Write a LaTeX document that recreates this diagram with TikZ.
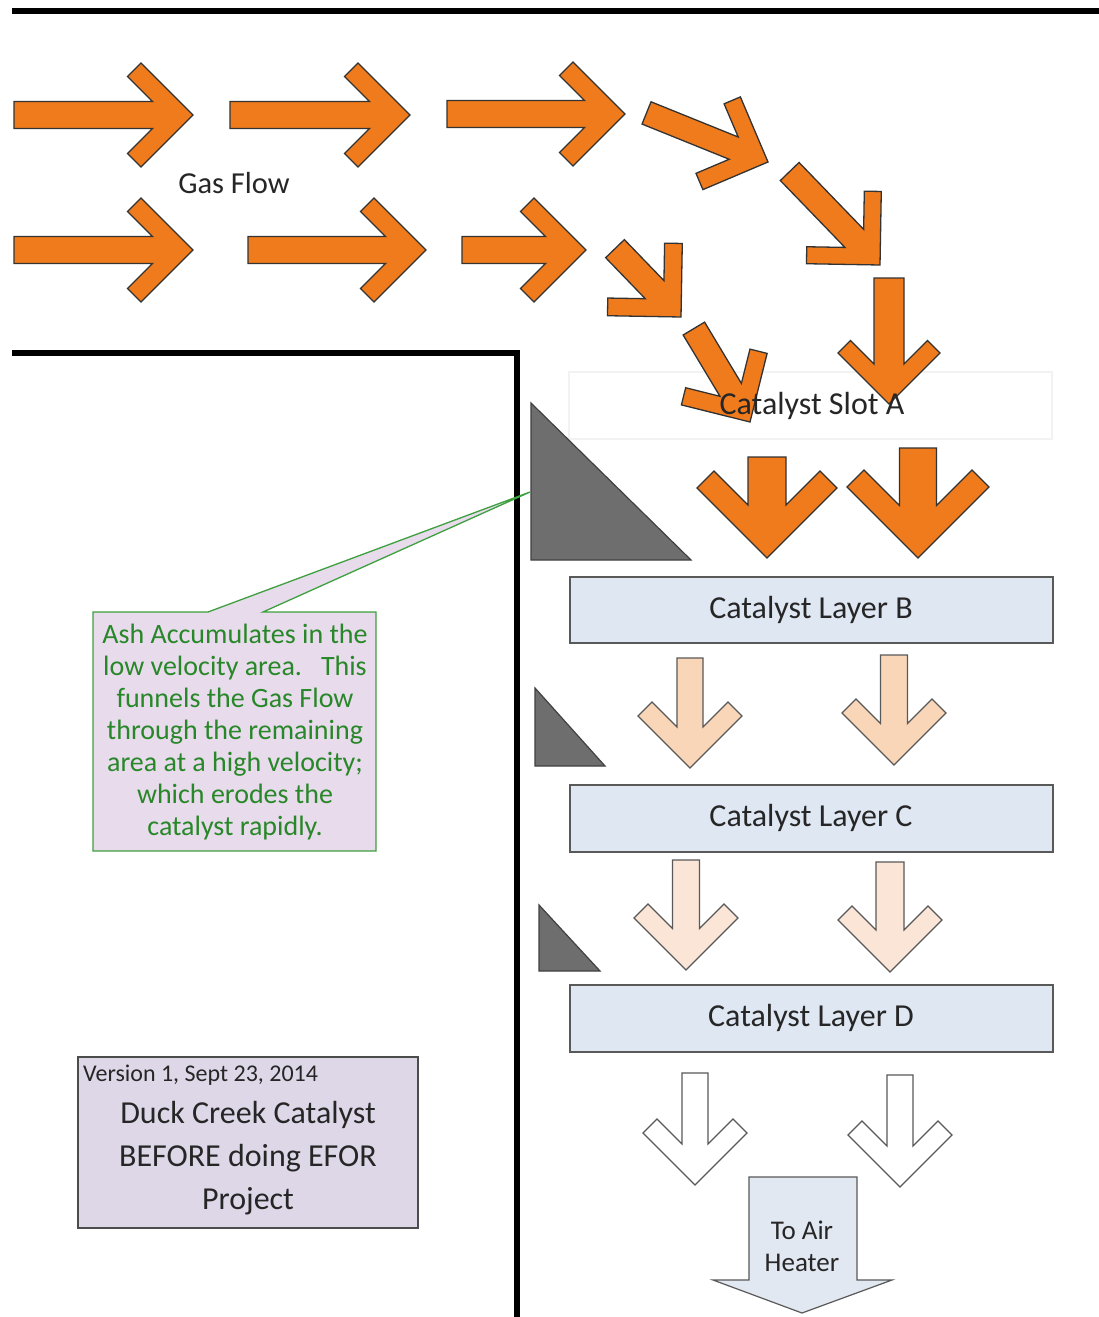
\documentclass[tikz,border=0pt]{standalone}
\usepackage{fontspec}
\setmainfont{Carlito}
\definecolor{org}{RGB}{240,123,28}
\definecolor{peachA}{RGB}{250,214,184}
\definecolor{peachB}{RGB}{251,229,214}
\definecolor{layerfill}{RGB}{223,231,243}
\definecolor{callfill}{RGB}{231,219,236}
\definecolor{callgreen}{RGB}{62,160,62}
\definecolor{calltext}{RGB}{40,135,40}
\definecolor{verfill}{RGB}{222,215,232}
\definecolor{ashgray}{RGB}{110,110,110}
\definecolor{heaterfill}{RGB}{226,232,241}
\newcommand\flowarrow[8]{%
  \begin{scope}[shift={(#1,#2)},rotate=#3]
    \path[#8] (0,0) -- (-#6,-#6) -- ({-#6-#7},{-#6+#7}) -- ({-#5-2*#7},-#5)
      -- (-#4,-#5) -- (-#4,#5) -- ({-#5-2*#7},#5) -- ({-#6-#7},{#6-#7})
      -- (-#6,#6) -- cycle;
  \end{scope}}
\tikzset{
  orangearrow/.style={fill=org, draw=black!80, line width=1.3pt, line join=miter},
  peachAarrow/.style={fill=peachA, draw=black!65, line width=1.1pt, line join=miter},
  peachBarrow/.style={fill=peachB, draw=black!65, line width=1.1pt, line join=miter},
  whitearrow/.style={fill=white, draw=black!65, line width=1.1pt, line join=miter},
  wall/.style={line width=6.5pt, draw=black},
  ashpile/.style={fill=ashgray, draw=black!75, line width=1.2pt, line join=miter},
  layerbox/.style={fill=layerfill, draw=black!65, line width=1.4pt},
  lbl/.style={inner sep=0pt, text=black!85, font=\fontsize{32}{38}\selectfont},
}
\begin{document}
\begin{tikzpicture}[x=1pt,y=-1pt]
\useasboundingbox (0,0) rectangle (1099,1317);
\fill[white] (0,0) rectangle (1099,1317);

% walls
\draw[wall] (12,11) -- (1099,11);
\draw[wall] (12,353) -- (517,353) -- (517,1317);

% faint catalyst slot A box
\draw[black!5, line width=1.5pt] (569,372) rectangle (1052,439);

% ash piles
\path[ashpile] (531,403) -- (531,560) -- (691,560) -- cycle;
\path[ashpile] (535,688) -- (535,766) -- (605,766) -- cycle;
\path[ashpile] (539,905) -- (539,971) -- (600,971) -- cycle;

% top row gas flow arrows
\flowarrow{193}{115}{0}{179}{13.5}{52}{13.5}{orangearrow}
\flowarrow{410}{115}{0}{180}{13.5}{52}{13.5}{orangearrow}
\flowarrow{625}{114}{0}{178}{13.5}{52}{13.5}{orangearrow}
\flowarrow{768}{162}{-22}{131}{12}{50}{12.5}{orangearrow}
\flowarrow{880}{265}{-46}{130}{13}{52}{12}{orangearrow}
\flowarrow{889}{404}{-90}{126}{15}{51}{12.5}{orangearrow}
% bottom row
\flowarrow{193}{250}{0}{179}{13.5}{52}{13.5}{orangearrow}
\flowarrow{426}{250}{0}{178}{13.5}{52}{13.5}{orangearrow}
\flowarrow{586}{250}{0}{124}{13.5}{52}{13.5}{orangearrow}
\flowarrow{681}{317}{-46}{95}{13}{52}{12.5}{orangearrow}
\flowarrow{750}{422}{-59}{109}{12.5}{50}{12.5}{orangearrow}

% big orange arrows
\flowarrow{767}{558}{-90}{101}{19}{70}{17}{orangearrow}
\flowarrow{918}{558}{-90}{110}{18.5}{71}{17}{orangearrow}

% catalyst layers
\path[layerbox] (570,577) rectangle (1053,643);
\path[layerbox] (570,785) rectangle (1053,852);
\path[layerbox] (570,985) rectangle (1053,1052);
\node[lbl] (layB) at (811,610) {Catalyst Layer B};
\node[lbl] (layC) at (811,818) {Catalyst Layer C};
\node[lbl] (layD) at (811,1018) {Catalyst Layer D};

% peach arrows
\flowarrow{690}{768}{-90}{110}{13}{52}{14}{peachAarrow}
\flowarrow{894}{765}{-90}{110}{13.5}{52}{14}{peachAarrow}
\flowarrow{686}{970}{-90}{110}{13.5}{52}{14}{peachBarrow}
\flowarrow{890}{972}{-90}{110}{14}{52}{14}{peachBarrow}
% white arrows
\flowarrow{695}{1185}{-90}{112}{13}{52}{14}{whitearrow}
\flowarrow{900}{1187}{-90}{112}{13}{52}{14}{whitearrow}

% to air heater arrow
\path[fill=heaterfill, draw=black!65, line width=1.2pt, line join=miter]
  (749,1177) -- (857,1177) -- (857,1280) -- (892,1280) -- (802,1313)
  -- (713,1280) -- (749,1280) -- cycle;
\node[lbl, font=\fontsize{27}{32}\selectfont, align=center] (heater) at (802,1246) {To Air\\Heater};

% labels
\node[lbl, font=\fontsize{30.5}{36}\selectfont] (gas) at (234,183) {Gas Flow};
\node[lbl] (slotA) at (812,406) {Catalyst Slot A};

% callout
\path[fill=callfill, draw=callgreen, line width=1.3pt, line join=miter]
  (93,612) -- (208,612) -- (530,492) -- (263,612) -- (376,612)
  -- (376,851) -- (93,851) -- cycle;
\node[inner sep=0pt, text=calltext, align=center, font=\fontsize{28}{32}\selectfont] (callout) at (235,732)
  {Ash Accumulates in the\\low velocity area.\ \ \ This\\funnels the Gas Flow\\through the remaining\\area at a high velocity;\\which erodes the\\catalyst rapidly.};

% version box
\path[fill=verfill, draw=black!70, line width=1.4pt] (78,1057) rectangle (418,1228);
\node[inner sep=0pt, anchor=west, text=black!85, font=\fontsize{24}{28}\selectfont] (version) at (83,1075) {Version 1, Sept 23, 2014};
\node[inner sep=0pt, text=black!85, align=center, font=\fontsize{32}{43}\selectfont] (title) at (248,1158)
  {Duck Creek Catalyst\\BEFORE doing EFOR\\Project};
\end{tikzpicture}
\end{document}
